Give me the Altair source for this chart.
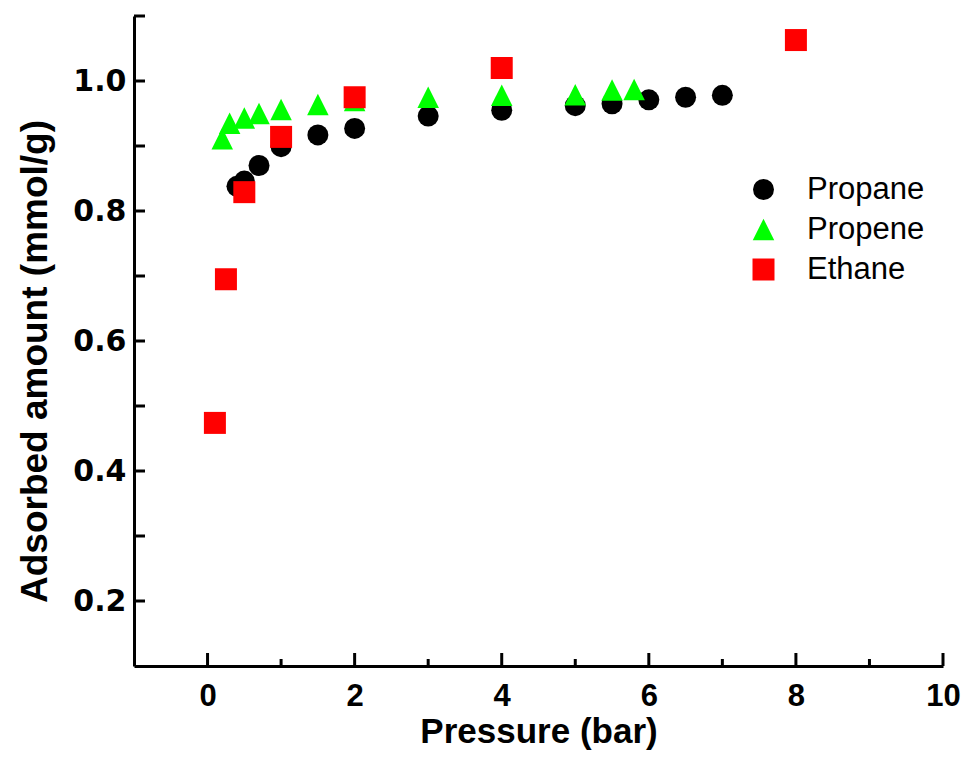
import altair as alt
import pandas as pd

# ---- data ----
gases = ["Propane", "Propene", "Ethane"]

propane_p = [0.4, 0.5, 0.7, 1.0, 1.5, 2.0, 3.0, 4.0, 5.0, 5.5, 6.0, 6.5, 7.0]
propane_q = [0.838, 0.846, 0.870, 0.899, 0.917, 0.927, 0.946, 0.955, 0.962, 0.965, 0.971, 0.975, 0.978]

propene_p = [0.2, 0.3, 0.5, 0.7, 1.0, 1.5, 2.0, 3.0, 4.0, 5.0, 5.5, 5.8]
propene_q = [0.911, 0.935, 0.943, 0.950, 0.956, 0.964, 0.970, 0.975, 0.978, 0.979, 0.986, 0.987]

ethane_p = [0.1, 0.25, 0.5, 1.0, 2.0, 4.0, 8.0]
ethane_q = [0.474, 0.695, 0.829, 0.914, 0.975, 1.020, 1.063]

x_label_values = [0, 2, 4, 6, 8, 10]
x_minor_ticks = [1, 3, 5, 7, 9]
y_label_values = [0.2, 0.4, 0.6, 0.8, 1.0]
y_ticks = [0.2, 0.3, 0.4, 0.5, 0.6, 0.7, 0.8, 0.9, 1.0, 1.1]

colors = ["#000000", "#00ff00", "#ff0000"]
tri = "M0,-1L1,1L-1,1Z"
shapes = ["circle", tri, "square"]
sizes = [441, 484, 340]

rows = []
for gas, ps, qs in [("Propane", propane_p, propane_q),
                    ("Propene", propene_p, propene_q),
                    ("Ethane", ethane_p, ethane_q)]:
    for p, q in zip(ps, qs):
        rows.append({"Gas": gas, "Pressure": p, "Amount": q})
df = pd.DataFrame(rows)

FONT = "Liberation Sans"
W, H = 809, 650

x_scale = alt.Scale(domain=[-1, 10], nice=False, zero=False)
y_scale = alt.Scale(domain=[0.1, 1.1], nice=False, zero=False)

x_axis = alt.Axis(title="Pressure (bar)", values=x_label_values, format="d",
                  ticks=False, tickSize=0, grid=False, labelPadding=15,
                  domainWidth=3, domainColor="black",
                  labelFont=FONT, labelFontSize=31, labelFontWeight="bold",
                  labelColor="black", labelFlush=False,
                  titleFont=FONT, titleFontSize=35, titleFontWeight="bold",
                  titleColor="black", titleY=65, titleBaseline="middle")
y_axis = alt.Axis(title="Adsorbed amount (mmol/g)", values=y_label_values, format=".1f",
                  ticks=False, tickSize=0, grid=False, labelPadding=8,
                  domainWidth=3, domainColor="black",
                  labelFont="DejaVu Sans", labelFontSize=30, labelFontWeight="bold",
                  labelColor="black", labelFlush=False,
                  titleFont=FONT, titleFontSize=37, titleFontWeight="bold",
                  titleColor="black", titleX=-99, titleY=345,
                  titleAlign="center", titleBaseline="middle", titleAngle=270)

points = alt.Chart(df).mark_point(filled=True, opacity=1, strokeWidth=0).encode(
    x=alt.X("Pressure:Q", scale=x_scale, axis=x_axis),
    y=alt.Y("Amount:Q", scale=y_scale, axis=y_axis),
    color=alt.Color("Gas:N", scale=alt.Scale(domain=gases, range=colors),
                    legend=alt.Legend(orient="none", legendX=614, legendY=158, title=None,
                                      labelFont=FONT, labelFontSize=31, labelColor="black",
                                      labelOffset=28, rowPadding=8, padding=0,
                                      symbolStrokeWidth=0, symbolOpacity=1)),
    shape=alt.Shape("Gas:N", scale=alt.Scale(domain=gases, range=shapes)),
    size=alt.Size("Gas:N", scale=alt.Scale(domain=gases, range=sizes)),
)

xt_major = alt.Chart(pd.DataFrame({"Pressure": x_label_values})).mark_rule(
    color="black", strokeWidth=3).encode(
    x=alt.X("Pressure:Q", scale=x_scale, axis=x_axis),
    y=alt.value(H), y2=alt.value(H - 13))

xt_minor = alt.Chart(pd.DataFrame({"Pressure": x_minor_ticks})).mark_rule(
    color="black", strokeWidth=3).encode(
    x=alt.X("Pressure:Q", scale=x_scale, axis=x_axis),
    y=alt.value(H), y2=alt.value(H - 7))

yt = alt.Chart(pd.DataFrame({"Amount": y_ticks})).mark_rule(
    color="black", strokeWidth=3).encode(
    y=alt.Y("Amount:Q", scale=y_scale, axis=y_axis),
    x=alt.value(0), x2=alt.value(11))

chart = alt.layer(points, xt_major, xt_minor, yt).properties(
    width=W, height=H,
    padding={"left": 126, "top": 8, "right": 18, "bottom": 97},
    autosize=alt.AutoSizeParams(type="none"),
    background="white",
).configure_view(stroke=None)

chart.save("out.html", embed_options={"renderer": "svg", "actions": False})
